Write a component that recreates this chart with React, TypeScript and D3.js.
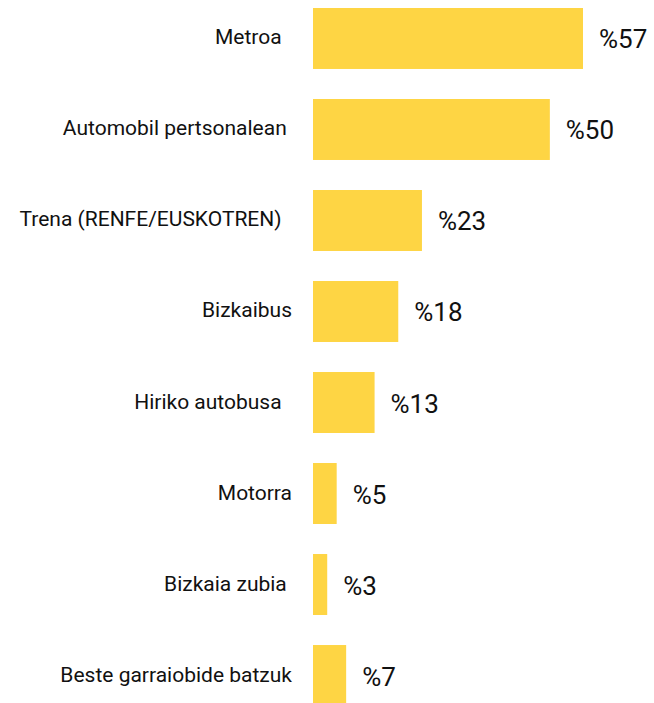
import React from "react";
import * as d3 from "d3";

const categories = [
  "Metroa  ",
  "Automobil pertsonalean ",
  "Trena (RENFE/EUSKOTREN)  ",
  "Bizkaibus",
  "Hiriko autobusa  ",
  "Motorra",
  "Bizkaia zubia ",
  "Beste garraiobide batzuk",
];
const values = [57, 50, 23, 18, 13, 5, 3, 7];
const valueLabels = ["%57", "%50", "%23", "%18", "%13", "%5", "%3", "%7"];

const W = 654;
const H = 703;

export default function App() {
  const x = d3.scaleLinear().domain([0, d3.max(values) as number]).range([313, 583]);
  const y = d3
    .scaleBand<string>()
    .domain(categories)
    .range([8, 706])
    .paddingInner(0.33)
    .paddingOuter(0);
  const bw = y.bandwidth();
  return (
    <div style={{ position: "absolute", left: 0, top: 0 }}>
      <svg width={W} height={H} style={{ display: "block" }} fontFamily="Roboto, sans-serif">
        {categories.map((c, i) => {
          const y0 = y(c) as number;
          const cy = y0 + bw / 2;
          return (
            <g key={c}>
              <rect x={x(0)} y={y0} width={x(values[i]) - x(0)} height={bw} fill="#FED544" />
              <text
                x={292}
                y={cy - 1}
                textAnchor="end"
                dominantBaseline="central"
                fontSize={21}
                fill="#111"
                style={{ whiteSpace: "pre" }}
              >
                {c}
              </text>
              <text
                x={x(values[i]) + 16}
                y={cy + 1}
                dominantBaseline="central"
                fontSize={26}
                fill="#111"
              >
                {valueLabels[i]}
              </text>
            </g>
          );
        })}
      </svg>
    </div>
  );
}
